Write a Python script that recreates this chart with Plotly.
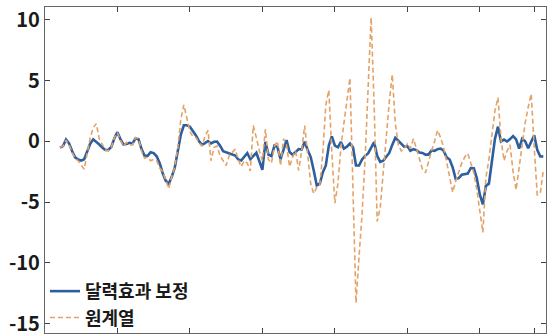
import plotly.graph_objects as go

# Monthly growth rates (%)
adjusted = [
    -0.52, -0.40, 0.15, -0.17, -0.80, -1.33, -1.50, -1.60, -1.48, -0.87,
    -0.20, 0.16, -0.02, -0.27, -0.51, -0.71, -0.72, -0.46, 0.25, 0.75,
    0.18, -0.25, -0.22, -0.13, -0.19, 0.24, 0.16, -0.64, -1.19, -1.20,
    -0.90, -0.97, -1.24, -1.80, -2.63, -3.25, -3.50, -2.93, -2.15, -0.95,
    0.55, 1.32, 1.32, 1.20, 0.88, 0.47, 0.02, -0.29, -0.15, 0.02,
    -0.18, -0.04, -0.03, -0.36, -0.81, -0.90, -0.98, -1.07, -1.17, -1.50,
    -1.58, -1.27, -0.97, -1.48, -1.17, -0.95, -1.64, -2.35, -0.05, -1.09,
    -1.22, -0.35, -0.48, -1.48, -0.70, 0.10, -0.89, -1.11, -0.89, -0.64,
    -0.68, -0.04, -0.72, -1.30, -2.40, -3.62, -3.50, -2.56, -1.99, -0.35,
    0.40, -0.36, -0.50, -0.06, -0.60, -0.45, -0.19, -0.50, -2.00, -2.00,
    -1.50, -1.20, -1.00, -0.52, -0.08, -1.20, -1.70, -1.60, -1.24, -0.96,
    -0.30, 0.28, 0.04, -0.23, -0.46, -0.40, -0.78, -0.65, -0.73, -0.92,
    -0.96, -1.10, -1.10, -0.76, -0.79, -0.65, -0.60, -0.78, -1.32, -1.50,
    -2.15, -3.10, -3.03, -2.76, -2.72, -2.66, -2.20, -2.22, -3.05, -4.40,
    -5.20, -3.67, -3.49, -1.65, 0.20, 1.20, -0.01, 0.14, -0.02, 0.18,
    0.43, 0.15, -0.60, 0.20, 0.00, -0.58, -0.10, 0.50, -0.70, -1.25,
    -1.24,
]

original = [
    -0.50, -0.40, 0.10, -0.30, -0.90, -1.40, -1.60, -2.00, -2.30, -1.00,
    0.30, 1.10, 1.45, 0.20, -0.30, -0.70, -0.80, -0.50, 0.30, 0.70,
    0.10, -0.40, -0.10, -0.30, -0.30, 0.30, 0.20, -0.80, -1.40, -1.30,
    -1.60, -1.50, -1.60, -2.20, -2.50, -3.30, -3.90, -2.90, -2.10, -0.50,
    1.80, 3.00, 1.90, 0.80, 0.40, 0.30, -0.10, -0.40, 0.40, 0.90,
    -1.60, -0.50, -0.40, -1.20, -1.60, -2.00, -1.20, -0.90, -0.65, -1.50,
    -2.10, -1.60, -1.80, -2.45, 1.30, 0.30, -0.80, -1.60, 1.00, -1.50,
    -1.80, -0.40, 0.00, -2.00, 0.20, -0.30, -2.10, -1.30, -0.80, -2.40,
    -0.80, 1.30, -1.00, -3.50, -4.30, -3.80, -3.60, -1.00, 3.00, 4.20,
    -1.00, -5.10, -3.50, -0.50, 1.50, 3.50, 5.20, -4.00, -13.30, -9.50,
    -6.00, -1.50, 5.00, 10.20, 3.00, -6.60, -5.50, -2.40, 0.50, 3.20,
    5.50, 1.50, -0.30, -0.80, -0.60, -0.20, -0.60, 0.20, -0.60, -1.50,
    -2.30, -2.60, -1.60, -0.80, 0.00, 0.90, 0.30, -0.50, -1.70, -3.00,
    -4.20, -3.30, -2.50, -1.80, -1.30, -1.00, -1.80, -2.60, -4.00, -6.00,
    -7.50, -3.00, -1.50, 0.50, 2.50, 3.60, 0.20, -1.60, -0.80, -0.30,
    -2.50, -4.00, -2.00, 0.00, 1.50, 2.80, 3.90, -0.50, -4.40, -4.30,
    -2.40,
]

months = list(range(len(adjusted)))
x_ticks = [19, 43, 67, 91, 115, 139, 157]
y_ticks = [10, 5, 0, -5, -10, -15]
y_tick_text = ["10", "5", "0", "-5", "-10", "-15"]
series_names = ["달력효과 보정", "원계열"]

font_family = "Noto Sans CJK KR"

fig = go.Figure()
fig.add_trace(go.Scatter(
    x=months, y=adjusted, mode="lines", name=series_names[0],
    line=dict(color="#2d5f9f", width=2.6),
))
fig.add_trace(go.Scatter(
    x=months, y=original, mode="lines", name=series_names[1],
    line=dict(color="#e3a267", width=1.6, dash="5px,3px"),
))

axis_common = dict(
    showline=True, linecolor="#666666", linewidth=1.2, mirror="ticks",
    ticks="inside", ticklen=5, tickcolor="#444444", tickwidth=1.2,
    showgrid=False, zeroline=False,
)

fig.update_xaxes(
    range=[-4.97, 160.9], tickvals=x_ticks, showticklabels=False,
    **axis_common,
)
fig.update_yaxes(
    range=[-15.78, 11.05], tickvals=y_ticks, ticktext=y_tick_text,
    ticklabeloverflow="allow",
    tickfont=dict(family=font_family, size=20, color="#1a1a1a", weight=700),
    **axis_common,
)

fig.add_annotation(
    text="(%)", xref="paper", yref="paper", x=0.0, y=1.015,
    xanchor="left", yanchor="bottom", showarrow=False,
    font=dict(family=font_family, size=16, color="#222222"),
)

fig.update_layout(
    width=558, height=334,
    margin=dict(l=45, r=12, t=7, b=1, autoexpand=False),
    plot_bgcolor="white", paper_bgcolor="white",
    showlegend=True,
    legend=dict(
        x=0.0, y=-0.009, xanchor="left", yanchor="bottom",
        bgcolor="rgba(0,0,0,0)", borderwidth=0,
        font=dict(family=font_family, size=18, color="#1a1a1a", weight=700),
        itemwidth=30, tracegroupgap=0,
    ),
)

fig.write_html("out.html")
